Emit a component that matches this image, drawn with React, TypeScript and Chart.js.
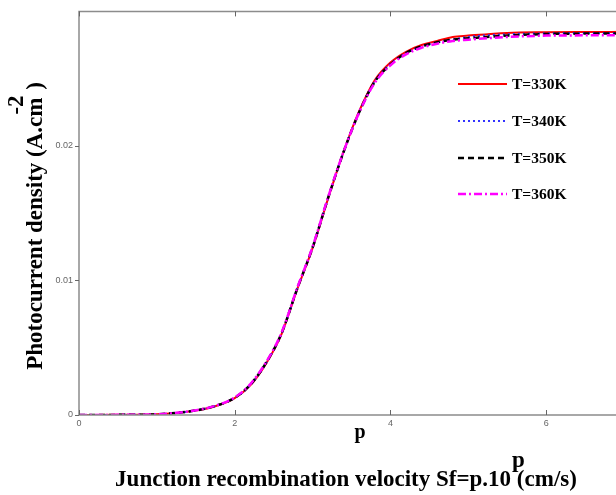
import React, { useEffect, useRef } from "react";
import { Chart, registerables } from "chart.js";

Chart.register(...registerables);

const P_VALUES = [0, 0.5, 1, 1.25, 1.5, 1.75, 2, 2.2, 2.4, 2.6, 2.8, 3, 3.2, 3.4, 3.6, 3.8, 4, 4.2, 4.4, 4.6, 4.8, 5, 5.5, 6, 6.5, 7];
const T330 = [0, 0.00001, 0.00005, 0.00015, 0.00033, 0.00065, 0.00125, 0.0022, 0.0038, 0.006, 0.0093, 0.0124, 0.0161, 0.0196, 0.0226, 0.0249, 0.0262, 0.027, 0.0275, 0.0278, 0.0281, 0.0282, 0.0284, 0.02845, 0.02847, 0.02848];
const T340 = [0, 0.00001, 0.00005, 0.00015, 0.00034, 0.00066, 0.00127, 0.00222, 0.00382, 0.00602, 0.00932, 0.01242, 0.01612, 0.01958, 0.02255, 0.02482, 0.0261, 0.0269, 0.0274, 0.0277, 0.0279, 0.0281, 0.0283, 0.02837, 0.0284, 0.0284];
const T350 = [0, 0.00001, 0.00005, 0.00016, 0.00034, 0.00067, 0.00128, 0.00225, 0.00385, 0.00605, 0.00935, 0.01245, 0.01615, 0.01958, 0.02252, 0.02478, 0.02605, 0.0269, 0.0274, 0.0277, 0.0279, 0.028, 0.0282, 0.02832, 0.02835, 0.02836];
const T360 = [0, 0.00001, 0.00005, 0.00016, 0.00035, 0.00068, 0.0013, 0.0023, 0.0039, 0.0061, 0.0094, 0.0125, 0.0162, 0.0196, 0.0225, 0.0247, 0.026, 0.0268, 0.0273, 0.0276, 0.0278, 0.0279, 0.0281, 0.0282, 0.02822, 0.02823];
const SERIES_LABELS = ["T=330K", "T=340K", "T=350K", "T=360K"];
const X_TICKS = [0, 2, 4, 6];
const Y_TICKS = [0, 0.01, 0.02];

const STYLES = [
  { color: "#ff0000", dash: [] as number[], width: 2 },
  { color: "#3333ff", dash: [2, 3], width: 2 },
  { color: "#000000", dash: [6, 4], width: 2.5 },
  { color: "#ff00ff", dash: [8, 3, 2, 3], width: 2.5 },
];

const SERIF = '"Liberation Serif", "Times New Roman", serif';

const decorPlugin = {
  id: "decor",
  afterDraw(chart: any) {
    const { ctx, chartArea } = chart;
    const xs = chart.scales.x;
    const ys = chart.scales.y;
    const { left, right, top, bottom } = chartArea;
    ctx.save();
    // frame
    ctx.strokeStyle = "#8c8c8c";
    ctx.lineWidth = 1.5;
    ctx.beginPath();
    ctx.moveTo(left, bottom);
    ctx.lineTo(left, top);
    ctx.lineTo(right, top);
    ctx.moveTo(left, bottom);
    ctx.lineTo(right, bottom);
    ctx.stroke();
    // tick marks
    ctx.lineWidth = 1;
    ctx.strokeStyle = "#666";
    ctx.beginPath();
    X_TICKS.forEach((v) => {
      const px = Math.round(xs.getPixelForValue(v)) + 0.5;
      ctx.moveTo(px, bottom);
      ctx.lineTo(px, bottom - 5);
      ctx.moveTo(px, top);
      ctx.lineTo(px, top + 5);
    });
    Y_TICKS.forEach((v) => {
      const py = Math.round(ys.getPixelForValue(v)) + 0.5;
      ctx.moveTo(left, py);
      ctx.lineTo(left - 4, py);
    });
    ctx.stroke();

    // legend
    const legendY = [84, 121, 158, 194];
    STYLES.forEach((s, i) => {
      ctx.strokeStyle = s.color;
      ctx.lineWidth = s.width;
      ctx.setLineDash(s.dash);
      ctx.beginPath();
      ctx.moveTo(458, legendY[i]);
      ctx.lineTo(507, legendY[i]);
      ctx.stroke();
      ctx.setLineDash([]);
      ctx.fillStyle = "#000";
      ctx.font = `bold 15.5px ${SERIF}`;
      ctx.textAlign = "left";
      ctx.textBaseline = "middle";
      ctx.fillText(SERIES_LABELS[i], 512, legendY[i] + 1);
    });

    // x label "p"
    ctx.fillStyle = "#000";
    ctx.textBaseline = "alphabetic";
    ctx.font = `bold 20px ${SERIF}`;
    ctx.textAlign = "center";
    ctx.fillText("p", 360, 438);

    // bottom title with superscript
    ctx.font = `bold 23px ${SERIF}`;
    const part1 = "Junction recombination velocity Sf=p.10";
    const part2 = " (cm/s)";
    const w1 = ctx.measureText(part1).width;
    const w2 = ctx.measureText(part2).width;
    const total = w1 + w2;
    const sx = 346 - total / 2;
    ctx.textAlign = "left";
    ctx.fillText(part1, sx, 486);
    ctx.fillText("p", sx + w1 + 1, 467);
    ctx.fillText(part2, sx + w1, 486);

    // y title rotated
    ctx.translate(42, 226);
    ctx.rotate(-Math.PI / 2);
    ctx.font = `bold 23px ${SERIF}`;
    const y1 = "Photocurrent density (A.cm";
    const y3 = " )";
    const a = ctx.measureText(y1).width;
    const b = ctx.measureText(y3).width;
    const tot = a + b + 2;
    const st = -tot / 2;
    ctx.fillText(y1, st, 0);
    ctx.fillText("-2", st + a - 17, -19);
    ctx.fillText(y3, st + a + 2, 0);
    ctx.restore();
  },
};

export default function App() {
  const ref = useRef<HTMLCanvasElement | null>(null);
  useEffect(() => {
    if (!ref.current) return;
    const all = [T330, T340, T350, T360];
    const chart = new Chart(ref.current, {
      type: "line",
      data: {
        datasets: all.map((vals, i) => ({
          label: SERIES_LABELS[i],
          data: P_VALUES.map((p, j) => ({ x: p, y: vals[j] })),
          borderColor: STYLES[i].color,
          borderDash: STYLES[i].dash,
          borderWidth: STYLES[i].width,
          pointRadius: 0,
          fill: false,
          cubicInterpolationMode: "monotone" as const,
          order: 4 - i,
        })),
      },
      plugins: [decorPlugin],
      options: {
        responsive: false,
        animation: false,
        layout: { padding: { left: 0, right: 16, top: 10, bottom: 0 } },
        plugins: { legend: { display: false }, tooltip: { enabled: false } },
        scales: {
          x: {
            type: "linear",
            min: 0,
            max: 7,
            grid: { display: false, drawTicks: false },
            border: { display: false },
            ticks: {
              stepSize: 2,
              padding: 3,
              color: "#666",
              font: { size: 9, family: '"Liberation Sans", sans-serif' },
              callback: (v: any) => (X_TICKS.includes(v) ? String(v) : ""),
            },
            afterFit: (s: any) => {
              s.height = 80;
            },
          },
          y: {
            type: "linear",
            min: 0,
            max: 0.03,
            grid: { display: false, drawTicks: false },
            border: { display: false },
            ticks: {
              stepSize: 0.01,
              padding: 6,
              color: "#666",
              font: { size: 9, family: '"Liberation Sans", sans-serif' },
              callback: (v: any) => {
                const n = Number(v);
                if (Math.abs(n) < 1e-9) return "0";
                if (Math.abs(n - 0.01) < 1e-9) return "0.01";
                if (Math.abs(n - 0.02) < 1e-9) return "0.02";
                return "";
              },
            },
            afterFit: (s: any) => {
              s.width = 79;
            },
          },
        },
      },
    });
    return () => chart.destroy();
  }, []);
  return (
    <div style={{ position: "fixed", left: 0, top: 0, width: 616, height: 495, overflow: "hidden", background: "#fff" }}>
      <canvas ref={ref} width={640} height={495} style={{ display: "block" }} />
    </div>
  );
}
